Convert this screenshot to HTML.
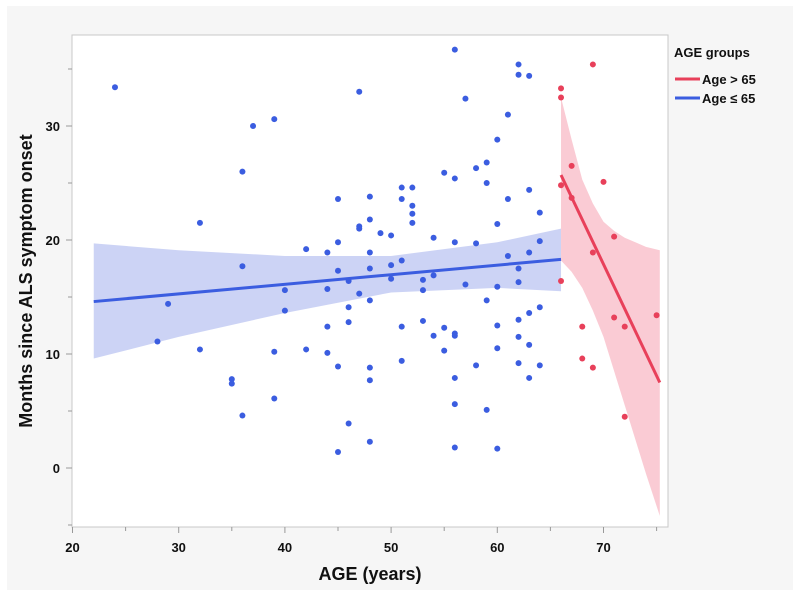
<!DOCTYPE html>
<html><head><meta charset="utf-8"><style>
html,body{margin:0;padding:0;background:#fff;width:795px;height:599px;overflow:hidden}
svg{display:block;font-family:"Liberation Sans",sans-serif}
</style></head><body>
<svg id="chart" width="795" height="599" viewBox="0 0 795 599" xmlns="http://www.w3.org/2000/svg">
<rect x="7" y="6" width="786" height="584" fill="#f6f6f6"/>
<rect x="72" y="35" width="596" height="492" fill="#fff" stroke="#c8c8c8" stroke-width="1"/>
<g id="bands"></g><g id="lines"></g><g id="points"></g><g id="axes"></g>
<text transform="translate(32,281) rotate(-90)" text-anchor="middle" font-size="18" font-weight="bold" fill="#111">Months since ALS symptom onset</text>
<text x="370" y="580" text-anchor="middle" font-size="18" font-weight="bold" fill="#111">AGE (years)</text>
<g>
<text x="674" y="57" font-size="13" font-weight="bold" fill="#111">AGE groups</text>
<line x1="675" y1="79" x2="700" y2="79" stroke="#e8405a" stroke-width="3"/>
<text x="702" y="84" font-size="13" font-weight="bold" fill="#111">Age &gt; 65</text>
<line x1="675" y1="98" x2="700" y2="98" stroke="#3b5de0" stroke-width="3"/>
<text x="702" y="103" font-size="13" font-weight="bold" fill="#111">Age ≤ 65</text>
</g>
</svg>
<script>
const blueAges=[24,28,29,32,32,35,35,36,36,36,37,39,39,39,40,40,42,42,44,44,44,44,45,45,45,45,45,46,46,46,46,47,47,47,47,48,48,48,48,48,48,48,48,49,50,50,50,51,51,51,51,51,52,52,52,52,53,53,53,54,54,54,55,55,55,56,56,56,56,56,56,56,56,57,57,58,58,58,59,59,59,59,60,60,60,60,60,60,61,61,61,62,62,62,62,62,62,62,63,63,63,63,63,63,64,64,64,64];
const blueVals=[33.4,11.1,14.4,21.5,10.4,7.8,7.4,26,17.7,4.6,30,30.6,10.2,6.1,15.6,13.8,19.2,10.4,10.1,12.4,18.9,15.7,23.6,8.9,1.4,17.3,19.8,16.4,14.1,12.8,3.9,33,21.2,21,15.3,23.8,21.8,18.9,17.5,14.7,8.8,7.7,2.3,20.6,20.4,17.8,16.6,24.6,23.6,18.2,12.4,9.4,24.6,23,22.3,21.5,16.5,15.6,12.9,20.2,16.9,11.6,25.9,12.3,10.3,36.7,25.4,19.8,11.8,11.6,7.9,5.6,1.8,32.4,16.1,26.3,19.7,9,26.8,25,14.7,5.1,28.8,21.4,15.9,12.5,10.5,1.7,31,23.6,18.6,35.4,34.5,17.5,16.3,13,11.5,9.2,34.4,24.4,18.9,13.6,10.8,7.9,22.4,19.9,14.1,9];
const redAges=[66,66,66,66,67,67,68,68,69,69,69,70,71,71,72,72,75];
const redVals=[33.3,32.5,24.8,16.4,26.5,23.7,12.4,9.6,35.4,18.9,8.8,25.1,20.3,13.2,12.4,4.5,13.4];
const blueFitAges=[22,66];
const blueFitVals=[14.6,18.3];
const blueCiAges=[22,30,40,50,60,66];
const blueCiUpper=[19.7,19.1,18.6,18.6,19.8,21.0];
const blueCiLower=[9.6,11.5,13.6,15.4,15.8,15.5];
const redFitAges=[66,75.3];
const redFitVals=[25.7,7.5];
const redCiAges=[66,67,68,69,70,71,72,73,74,75.3];
const redCiUpper=[32.5,28.8,25.3,23.2,21.6,20.8,20.2,19.8,19.4,19.1];
const redCiLower=[18.2,17.2,15.8,13.8,11.5,8.5,5.5,2.5,-0.5,-4.2];
const xTicks=[20,30,40,50,60,70];
const yTicks=[0,10,20,30];

const NS="http://www.w3.org/2000/svg";
const X=a=>72.5+10.62*(a-20);
const Y=v=>468-11.4*v;
function mk(tag,attrs,parent){const e=document.createElementNS(NS,tag);for(const k in attrs)e.setAttribute(k,attrs[k]);document.getElementById(parent).appendChild(e);return e;}
function band(ages,up,lo){let p=ages.map((a,i)=>(i?'L':'M')+X(a)+','+Y(up[i])).join(' ');for(let i=ages.length-1;i>=0;i--)p+=' L'+X(ages[i])+','+Y(lo[i]);return p+' Z';}
let e;
e=mk('path',{d:band(blueCiAges,blueCiUpper,blueCiLower),fill:'#c3cbf3','fill-opacity':'0.85'},'bands');


e=mk('path',{d:band(redCiAges,redCiUpper,redCiLower),fill:'#f9c2cc','fill-opacity':'0.85'},'bands');


e=mk('line',{x1:X(blueFitAges[0]),y1:Y(blueFitVals[0]),x2:X(blueFitAges[1]),y2:Y(blueFitVals[1]),stroke:'#3b5de0','stroke-width':3},'lines');


e=mk('line',{x1:X(redFitAges[0]),y1:Y(redFitVals[0]),x2:X(redFitAges[1]),y2:Y(redFitVals[1]),stroke:'#e8405a','stroke-width':3},'lines');


blueAges.forEach((a,i)=>{const c=mk('circle',{cx:X(a),cy:Y(blueVals[i]),r:3,fill:'#3b5de0'},'points');

});
redAges.forEach((a,i)=>{const c=mk('circle',{cx:X(a),cy:Y(redVals[i]),r:3,fill:'#e8405a'},'points');

});
for(let a=20;a<=75;a+=5){const t=mk('line',{x1:X(a),y1:527,x2:X(a),y2:a%10?531:533,stroke:'#999'},'axes');

}
xTicks.forEach(a=>{const t=mk('text',{x:X(a),y:552,'text-anchor':'middle','font-size':13,'font-weight':'bold',fill:'#111'},'axes');t.textContent=a;

});
for(let v=-5;v<=35;v+=5){const t=mk('line',{x1:72,y1:Y(v),x2:v%10?68:66,y2:Y(v),stroke:'#999'},'axes');

}
yTicks.forEach(v=>{const t=mk('text',{x:60,y:Y(v)+5,'text-anchor':'end','font-size':13,'font-weight':'bold',fill:'#111'},'axes');t.textContent=v;

});
</script>
</body></html>
